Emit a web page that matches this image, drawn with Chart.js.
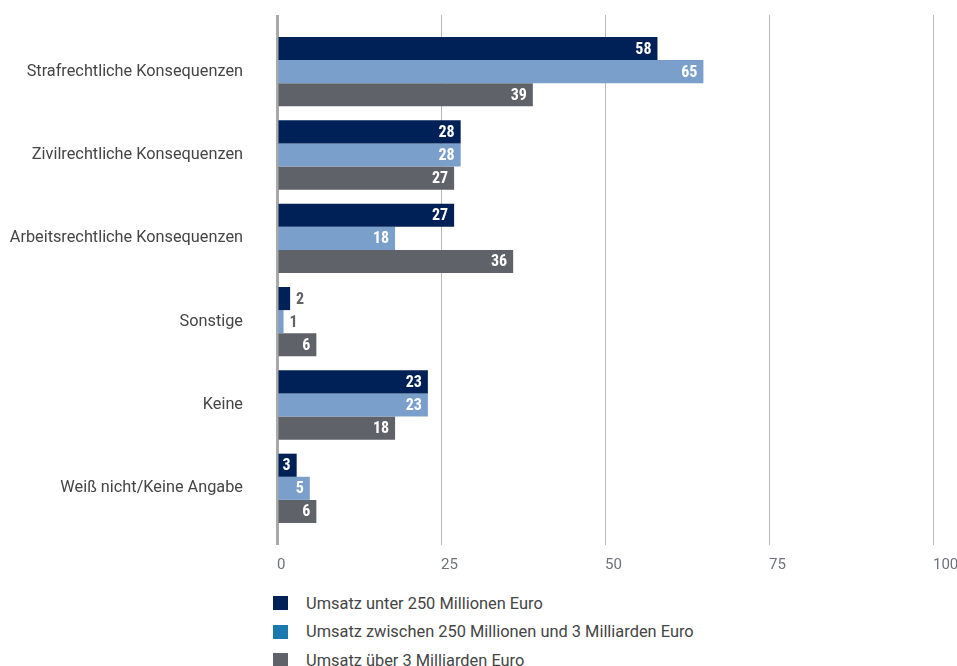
<!DOCTYPE html>
<html lang="de">
<head>
<meta charset="utf-8">
<title>Konsequenzen nach Umsatzklasse</title>
<script src="https://cdn.jsdelivr.net/npm/chart.js@4.4.1/dist/chart.umd.min.js"></script>
<style>
    html, body {
        margin: 0;
        padding: 0;
        background: #ffffff;
    }
    .wrap {
        position: relative;
        width: 957px;
        height: 666px;
        overflow: hidden;
    }
    .chart-box {
        position: absolute;
        left: 0;
        top: 0;
        width: 957px;
        height: 585px;
    }
    #legend {
        position: absolute;
        left: 273px;
        top: 589px;
        margin: 0;
        padding: 0;
        list-style: none;
        font-family: "Roboto", sans-serif;
        font-size: 16.4px;
        color: #454545;
    }
    #legend li {
        display: flex;
        align-items: center;
        height: 28.5px;
    }
    #legend .sw {
        width: 15px;
        height: 14px;
        margin-right: 18px;
        flex: none;
    }
</style>
</head>
<body>
<div class="wrap">
    <div class="chart-box"><canvas id="konsequenzChart"></canvas></div>
    <ul id="legend"></ul>
</div>

<script>
// --- Daten ---
const categories = [
    "Strafrechtliche Konsequenzen",
    "Zivilrechtliche Konsequenzen",
    "Arbeitsrechtliche Konsequenzen",
    "Sonstige",
    "Keine",
    "Weiß nicht/Keine Angabe",
];
const seriesNames = [
    "Umsatz unter 250 Millionen Euro",
    "Umsatz zwischen 250 Millionen und 3 Milliarden Euro",
    "Umsatz über 3 Milliarden Euro",
];
const unter250Mio = [58, 28, 27, 2, 23, 3];
const zwischen250Mio3Mrd = [65, 28, 18, 1, 23, 5];
const ueber3Mrd = [39, 27, 36, 6, 18, 6];
const xTicks = [0, 25, 50, 75, 100];

// Farben
const barColors = ["#002157", "#7a9fcb", "#5f6269"];
const legendColors = ["#002157", "#1a7ab0", "#5f6269"];
const gridColor = "#b8b8b8";
const labelFont = "'Roboto Condensed', 'Liberation Sans Narrow', 'DejaVu Sans Condensed', 'Roboto', sans-serif";

// ============================================
// Plugin: Werte an den Balkenenden
// ============================================
const valueLabels = {
    id: "valueLabels",
    afterDatasetsDraw(chart) {
        const { ctx } = chart;
        ctx.save();
        ctx.font = "bold 16px " + labelFont;
        ctx.textBaseline = "middle";
        chart.data.datasets.forEach((ds, i) => {
            const meta = chart.getDatasetMeta(i);
            meta.data.forEach((bar, j) => {
                const v = ds.data[j];
                if (v >= 3) {
                    // passt in den Balken
                    ctx.fillStyle = "#ffffff";
                    ctx.textAlign = "right";
                    ctx.fillText(String(v), bar.x - 6, bar.y + 1);
                } else {
                    ctx.fillStyle = "#5f6269";
                    ctx.textAlign = "left";
                    ctx.fillText(String(v), bar.x + 6, bar.y + 1);
                }
            });
        });
        ctx.restore();
    },
};

// Gitterlinie bei 0 dicker und dunkler
const gridWidth = (c) => (c.tick && c.tick.value === 0 ? 3 : 1);
const gridLineColor = (c) => (c.tick && c.tick.value === 0 ? "#a9a9a9" : gridColor);

// feste Achsenmaße, damit der Plotbereich bei x 277..933 / y 30..530 liegt
const fixBottom = (s) => { s.height = 55; s.paddingLeft = 0; s.paddingRight = 0; };
const fixTop = (s) => { s.height = 15; s.paddingLeft = 0; s.paddingRight = 0; };
const fixLeft = (s) => { s.width = 277; s.paddingTop = 0; s.paddingBottom = 0; };

const ctx = document.getElementById("konsequenzChart").getContext("2d");
const chart = new Chart(ctx, {
    type: "bar",
    data: {
        labels: categories,
        datasets: [unter250Mio, zwischen250Mio3Mrd, ueber3Mrd].map((d, i) => ({
            label: seriesNames[i],
            data: d,
            backgroundColor: barColors[i],
            borderWidth: 0,
            barPercentage: 1,
            categoryPercentage: 0.832,
        })),
    },
    options: {
        indexAxis: "y",
        responsive: true,
        maintainAspectRatio: false,
        animation: false,
        layout: { padding: { top: 15, right: 24, bottom: 0, left: 0 } },
        plugins: {
            legend: { display: false },
            tooltip: { enabled: false },
        },
        scales: {
            x: {
                position: "bottom",
                min: 0,
                max: 100,
                afterBuildTicks: (s) => { s.ticks = xTicks.map((v) => ({ value: v })); },
                afterFit: fixBottom,
                border: { display: false },
                grid: {
                    color: gridLineColor,
                    lineWidth: gridWidth,
                    tickLength: 15,
                },
                ticks: {
                    align: "start",
                    padding: 11,
                    color: "#6f727a",
                    font: { family: "'Roboto', sans-serif", size: 15 },
                },
            },
            xTop: {
                position: "top",
                min: 0,
                max: 100,
                afterBuildTicks: (s) => { s.ticks = xTicks.map((v) => ({ value: v })); },
                afterFit: fixTop,
                border: { display: false },
                grid: {
                    drawOnChartArea: false,
                    color: gridLineColor,
                    lineWidth: gridWidth,
                    tickLength: 15,
                },
                ticks: { display: false },
            },
            y: {
                afterFit: fixLeft,
                border: { display: false },
                grid: { display: false },
                ticks: {
                    padding: 26,
                    color: "#454545",
                    font: { family: "'Roboto', sans-serif", size: 16.3 },
                },
            },
        },
    },
    plugins: [valueLabels],
});

// Legende untereinander
const legendEl = document.getElementById("legend");
seriesNames.forEach((name, i) => {
    const li = document.createElement("li");
    const sw = document.createElement("span");
    sw.className = "sw";
    sw.style.background = legendColors[i];
    li.appendChild(sw);
    li.appendChild(document.createTextNode(name));
    legendEl.appendChild(li);
});
</script>
</body>
</html>
